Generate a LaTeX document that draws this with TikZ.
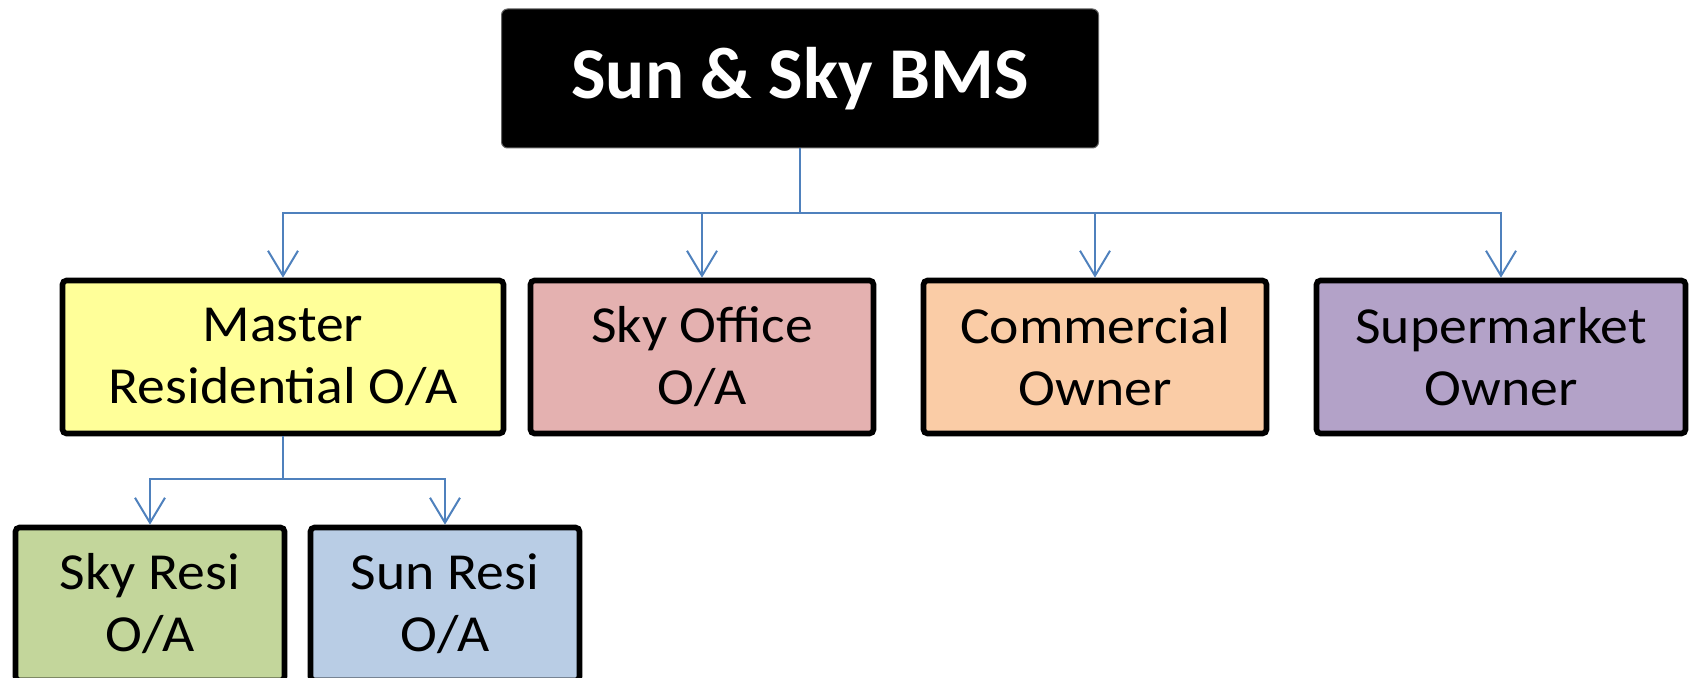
\documentclass[tikz,border=0pt]{standalone}
\usepackage{fontspec}
\setmainfont{Carlito}
\newfontfamily\unitfont[FakeStretch=1.07]{Carlito}
\usepackage{xcolor}
\usepackage{tikz}
\usetikzlibrary{arrows.meta, positioning}
\definecolor{linkblue}{HTML}{4F81BD}
\definecolor{resiyellow}{HTML}{FFFF99}
\definecolor{officepink}{HTML}{E4B1B0}
\definecolor{commorange}{HTML}{FACCA6}
\definecolor{marketpurple}{HTML}{B3A2C8}
\definecolor{skygreen}{HTML}{C3D69B}
\definecolor{sunblue}{HTML}{B9CDE5}

\begin{document}
\begin{tikzpicture}[
  x=0.5pt, y=-0.5pt,
  headbox/.style={draw=black!60, line width=0.5pt, rounded corners=3pt,
                  fill=black, text=white, minimum width=298.5pt,
                  minimum height=69.5pt, inner sep=0pt,
                  font=\fontsize{36.5pt}{44pt}\selectfont\bfseries},
  unit/.style={draw=black, line width=2.8pt, rounded corners=2pt,
               minimum height=76.5pt, inner sep=0pt, align=center,
               font=\unitfont\fontsize{26pt}{31pt}\selectfont},
  link/.style={draw=linkblue, line width=1pt,
               -{Straight Barb[length=12.5pt, width=15pt]}}
]
  \useasboundingbox (0,0) rectangle (1689,678);
  \clip (0,0) rectangle (1689,678);
  \node[headbox] (bms) at (800,78.5) {Sun \& Sky BMS};
  % owners
  \node[unit, fill=resiyellow, minimum width=220.5pt] (master) at (283,357)
    {Master\\Residential O/A};
  \node[unit, fill=officepink, minimum width=171.5pt] (office) at (702,357)
    {Sky Office\\O/A};
  \node[unit, fill=commorange, minimum width=171.5pt] (commercial) at (1095,357)
    {Commercial\\Owner};
  \node[unit, fill=marketpurple, minimum width=184.5pt] (market) at (1501,357)
    {Supermarket\\Owner};
  % residential split
  \node[unit, fill=skygreen, minimum width=134.5pt] (skyresi) at (150,604)
    {Sky Resi\\O/A};
  \node[unit, fill=sunblue, minimum width=134.5pt] (sunresi) at (445,604)
    {Sun Resi\\O/A};
  \coordinate (topbus) at (800,213);
  \coordinate (resibus) at (283,479);
  \foreach \n in {master,office,commercial,market}
    \draw[link] (bms.south) |- (topbus -| \n.north) -- (\n.north);
  \foreach \n in {skyresi,sunresi}
    \draw[link] (master.south) |- (resibus -| \n.north) -- (\n.north);
\end{tikzpicture}
\end{document}
